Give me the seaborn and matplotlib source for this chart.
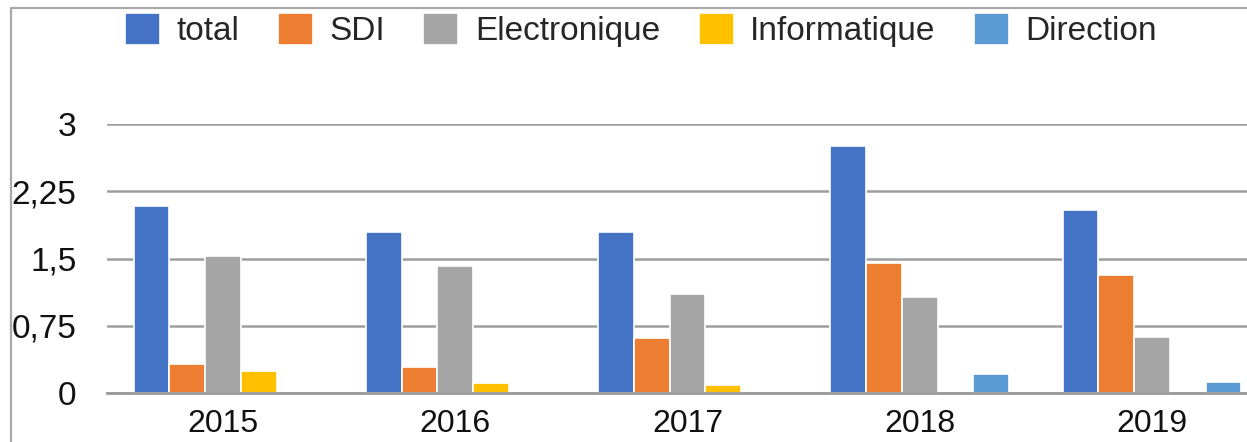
import numpy as np
import pandas as pd
import matplotlib.pyplot as plt
import seaborn as sns
from matplotlib.lines import Line2D

years = ['2015', '2016', '2017', '2018', '2019']
series = ['total', 'SDI', 'Electronique', 'Informatique', 'Direction']
total = [2.09, 1.80, 1.80, 2.76, 2.04]
sdi = [0.32, 0.29, 0.61, 1.45, 1.31]
electronique = [1.53, 1.42, 1.10, 1.07, 0.62]
informatique = [0.24, 0.105, 0.086, np.nan, np.nan]
direction = [np.nan, np.nan, np.nan, 0.21, 0.12]
colors = ['#4472C4', '#ED7D31', '#A5A5A5', '#FFC000', '#5B9BD5']
yticks = [0, 0.75, 1.5, 2.25, 3]
ytick_labels = ['0', '0,75', '1,5', '2,25', '3']

rows = []
for name, vals in zip(series, [total, sdi, electronique, informatique, direction]):
    for y, v in zip(years, vals):
        rows.append({'annee': y, 'serie': name, 'valeur': v})
data = pd.DataFrame(rows)

sns.set_style('white')
plt.rcParams['font.family'] = ['Liberation Sans', 'DejaVu Sans']

fig = plt.figure(figsize=(12.47, 4.42), dpi=100)
ax = fig.add_axes([107 / 1247, 49.3 / 442, 1161 / 1247, 268.4 / 442])

sns.barplot(data=data, x='annee', y='valeur', hue='serie', hue_order=series,
            palette=colors, width=0.77, gap=0, edgecolor='white', linewidth=1.2,
            saturation=1, errorbar=None, ax=ax, zorder=3)

ax.set_ylim(0, 3)
ax.set_xlim(-0.5, 4.5)
ax.set_yticks(yticks)
ax.set_yticklabels(ytick_labels)
ax.grid(axis='y', color='#9e9e9e', linewidth=1.8, zorder=0)
ax.set_axisbelow(True)
for s in ['top', 'right', 'left']:
    ax.spines[s].set_visible(False)
ax.spines['bottom'].set_color('#9a9a9a')
ax.spines['bottom'].set_linewidth(2)
ax.spines['bottom'].set_zorder(5)
ax.tick_params(axis='y', length=0, pad=22, labelsize=24, colors='#111111')
ax.tick_params(axis='x', length=0, pad=12, labelsize=23, colors='#111111')
ax.set_xlabel('')
ax.set_ylabel('')

ax.legend(loc='center', bbox_to_anchor=(641 / 1247, 1 - 30 / 442),
          bbox_transform=fig.transFigure, ncol=5, frameon=False, fontsize=24,
          handlelength=1.05, handleheight=1.1, handletextpad=0.5,
          columnspacing=1.15, borderaxespad=0)

# chart frame (top and left edges visible)
fig.add_artist(Line2D([10.5 / 1247, 10.5 / 1247], [0, 1 - 7.5 / 442],
                      transform=fig.transFigure, color='#aaaaaa', linewidth=1.6))
fig.add_artist(Line2D([10.5 / 1247, 1], [1 - 7.5 / 442, 1 - 7.5 / 442],
                      transform=fig.transFigure, color='#aaaaaa', linewidth=1.6))

fig.savefig('out.png', dpi=100)
